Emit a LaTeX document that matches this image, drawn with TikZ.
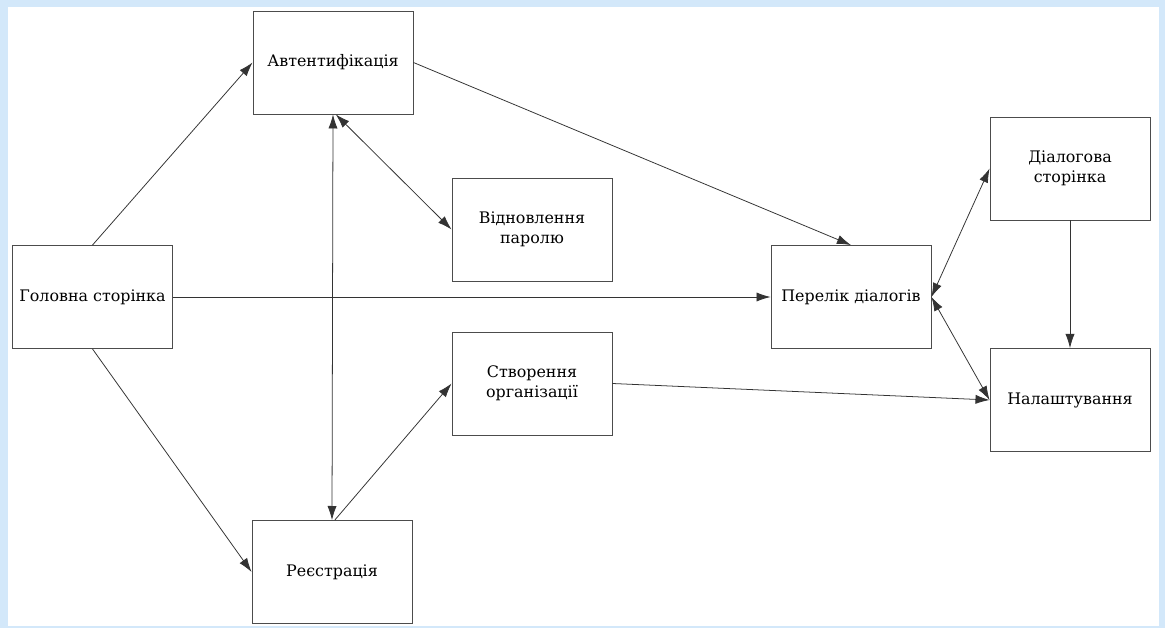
\documentclass[tikz,border=0pt]{standalone}
\usepackage{fontspec}
\setmainfont{DejaVu Serif}
\newfontfamily\boxfont{DejaVu Serif}
\usepackage{xcolor}
\usepackage{tikz}
\usetikzlibrary{arrows,arrows.meta,positioning}

\definecolor{slideBlue}{HTML}{D3E8FA}

\begin{document}
\begin{tikzpicture}[x=0.025cm, y=-0.025cm,
  box/.style={draw=black!70, line width=0.6pt, fill=white, minimum width=4cm, minimum height=2.575cm, inner sep=2pt, align=center, font=\boxfont\fontsize{11.3}{14.3}\selectfont},
  link/.style={draw=black!80, line width=0.55pt},
  >={Latex[length=10pt,width=6.5pt]}]

\useasboundingbox (0,0) rectangle (1165,628);
\fill[slideBlue] (0,0) rectangle (1165,628);
\fill[white] (8,7) rectangle (1159,626);

\node[box] at (92.5,297)  (holovna) {Головна сторінка};
\node[box] at (333,62.5)  (avtent)  {Автентифікація};
\node[box] at (532,229.5) (vidnov)  {Відновлення\\паролю};
\node[box] at (532,383.5) (stvor)   {Створення\\організації};
\node[box] at (332,572)   (reestr)  {Реєстрація};
\node[box] at (851,297)   (perelik) {Перелік діалогів};
\node[box] at (1070,168.5) (dialoh) {Діалогова\\сторінка};
\node[box] at (1070,400)  (nalasht) {Налаштування};

\draw[link,->] (holovna.north) -- (avtent.west);
\draw[link,->] (holovna.south) -- (reestr.west);
\draw[link,->] (holovna.east) -- (perelik.west);

\draw[link,<->] (avtent.south) -- (reestr.north);
\draw[link,<->] ([xshift=2pt]avtent.south) -- (vidnov.west);
\draw[link,->] ([xshift=2pt]reestr.north) -- (stvor.west);
\draw[link,->] (avtent.east) -- (perelik.north);

\draw[link,<->] (perelik.east) -- (dialoh.west);
\draw[link,<->] (perelik.east) -- (nalasht.west);
\draw[link,->] (dialoh.south) -- (nalasht.north);
\draw[link,->] (stvor.east) -- (nalasht.west);

\end{tikzpicture}
\end{document}
